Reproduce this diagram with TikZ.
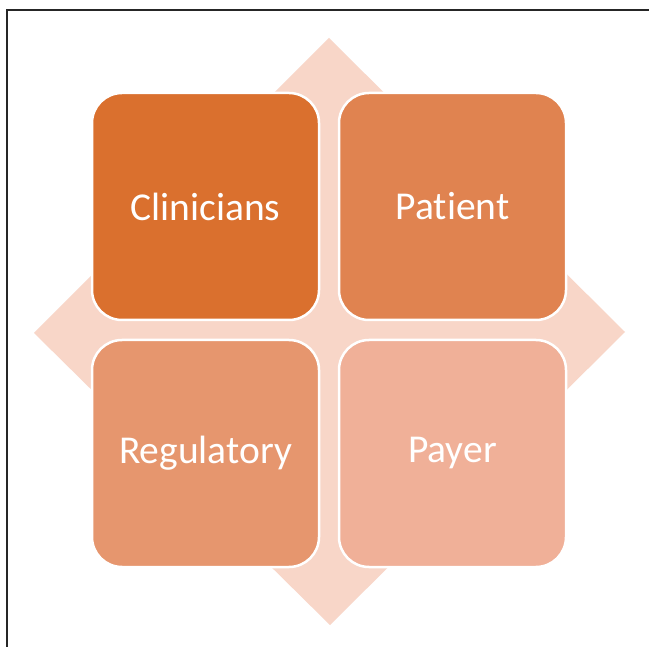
\documentclass[tikz,border=0pt]{standalone}
\usepackage{fontspec}
\setmainfont{Carlito}[Ligatures={NoCommon,NoRequired,NoContextual}]
\definecolor{diam}{RGB}{248,214,200}
\definecolor{cA}{RGB}{218,112,46}
\definecolor{cB}{RGB}{224,131,80}
\definecolor{cC}{RGB}{230,150,110}
\definecolor{cD}{RGB}{240,176,152}
\begin{document}
\begin{tikzpicture}[x=1pt,y=-1pt,
  cell/.style={draw=white,line width=2.5pt,rounded corners=30pt,minimum width=227pt,minimum height=227pt,inner sep=0pt,text=white,font=\fontsize{39.5}{46}\selectfont}]
\useasboundingbox (0,0) rectangle (649,647);
\fill[white] (0,0) rectangle (649,647);
\draw[line width=1.2pt,black!85] (7,647) -- (7,10) -- (649,10);
\fill[diam] (329,38) -- (625,332) -- (330,625) -- (34,333) -- cycle;
\node[cell,fill=cA] (clin) at (205.5,206.5) {Clinicians};
\node[cell,fill=cB] (pat) at (452.5,206.5) {Patient};
\node[cell,fill=cC] (reg) at (205.5,453.5) {Regulatory};
\node[cell,fill=cD] (pay) at (452.5,453.5) {Payer};
\end{tikzpicture}
\end{document}
